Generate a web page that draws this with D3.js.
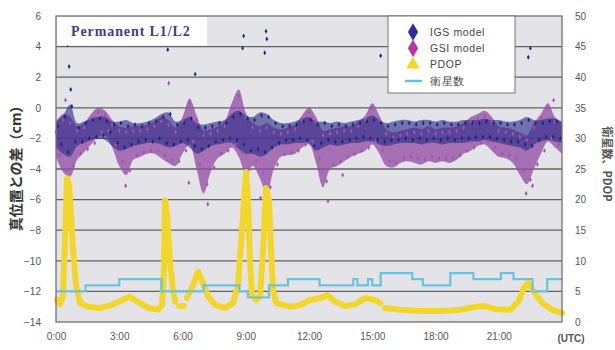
<!DOCTYPE html>
<html>
<head>
<meta charset="utf-8">
<script src="https://cdn.jsdelivr.net/npm/d3@7"></script>
<style>
  body { margin: 0; background: #fff; }
  svg { display: block; }
</style>
</head>
<body>
<svg id="chart" width="615" height="350"></svg>
<script>
// ---- data ----
const xTickHours = [0, 3, 6, 9, 12, 15, 18, 21];
const xTickLabels = ["0:00", "3:00", "6:00", "9:00", "12:00", "15:00", "18:00", "21:00"];
const leftTicks = [6, 4, 2, 0, -2, -4, -6, -8, -10, -12, -14];
const rightTicks = [0, 5, 10, 15, 20, 25, 30, 35, 40, 45, 50];
const seriesNames = ["IGS model", "GSI model", "PDOP", "衛星数"];

// envelope of the point clouds, every 20 min (cm)
const igsHi = [
  -0.9,-0.5,0.2, -1.0,-0.9,-0.7, -0.6,-0.6,-0.9, -0.9,-0.8,-1.0,
  -1.0,-0.9,-0.7, -0.4,-0.3,-0.9, -0.8,-0.6,-1.0, -1.1,-1.0,-0.9,
  -0.8,-0.4,-0.2, -0.5,-0.6,-0.3, -0.4,-0.8,-1.0, -1.0,-0.9,-0.7,
  -0.6,-0.9,-0.9, -1.0,-0.9,-1.0, -0.9,-0.8,-0.7, -0.5,-0.8,-1.0,
  -0.9,-0.8,-0.8, -0.9,-0.8,-0.8, -0.9,-0.8,-0.9, -0.9,-0.8,-0.8,
  -0.8,-0.7,-0.8, -0.8,-0.9,-0.9, -0.8,-0.6,-0.8, -0.8,-0.7,-0.7, -0.9];
const igsLo = [
  -2.6,-3.0,-3.2, -2.5,-2.3,-2.1, -2.0,-2.1,-2.5, -2.8,-2.7,-2.5,
  -2.4,-2.3,-2.3, -2.4,-2.6,-2.5, -2.3,-2.6,-3.0, -2.8,-2.5,-2.4,
  -2.3,-2.3,-2.7, -3.0,-3.0,-3.2, -3.0,-2.6,-2.4, -2.4,-2.3,-2.3,
  -2.3,-2.8,-2.6, -2.4,-2.5,-2.4, -2.3,-2.3,-2.2, -2.2,-2.4,-2.5,
  -2.4,-2.3,-2.3, -2.3,-2.4,-2.3, -2.3,-2.4,-2.3, -2.3,-2.3,-2.2,
  -2.2,-2.1,-2.2, -2.3,-2.4,-2.5, -2.6,-2.8,-2.4, -2.2,-2.1,-2.2, -2.3];
const gsiHi = [
  -0.9,-0.4,-0.6, -1.2,-1.0,-0.4, 0.0,-0.2,-0.8, -1.2,-1.3,-1.2,
  -1.2,-1.1,-0.9, -0.6,-0.8,-1.3, -0.6,0.6,-0.5, -1.5,-1.4,-1.2,
  -0.9,0.3,1.2, -0.3,-1.0,-1.2, -1.0,-1.3,-1.4, -1.3,-1.1,-0.5,
  0.0,-0.6,-1.5, -1.4,-1.3,-1.2, -1.2,-0.9,-0.5, 0.3,-0.5,-1.4,
  -1.6,-1.5,-1.4, -1.3,-1.4,-1.2, -1.4,-1.3,-1.3, -1.2,-1.0,-0.6,
  -0.4,-0.2,-0.6, -1.2,-1.3,-1.4, -1.6,-1.8,-1.0, -0.4,0.3,-0.6, -1.0];
const gsiLo = [
  -3.2,-4.2,-4.5, -3.4,-2.9,-2.4, -1.9,-1.8,-2.6, -3.8,-4.4,-3.4,
  -3.2,-3.0,-3.0, -3.3,-3.6,-3.8, -3.0,-2.4,-4.0, -5.6,-4.2,-3.3,
  -3.0,-2.6,-3.2, -4.3,-3.8,-4.6, -5.6,-4.0,-3.2, -3.1,-3.0,-2.6,
  -2.4,-3.6,-5.2, -4.0,-3.8,-3.5, -3.2,-3.0,-2.8, -2.4,-3.0,-3.8,
  -3.9,-3.6,-3.5, -3.6,-3.7,-3.5, -3.6,-3.5,-3.6, -3.4,-3.0,-2.8,
  -2.5,-2.4,-2.8, -3.2,-3.3,-3.6, -4.4,-5.0,-4.0, -3.0,-2.2,-2.6, -3.0];

// single epochs, every 10 min (cm)
const igsCm = [
  -1.2,-2.4,-0.6,-2.9,0.1,-2.2,  -1.3,-2.2,-1.0,-2.0,-0.8,-1.9,
  -0.7,-1.8,-0.9,-1.6,-1.1,-2.3,  -1.0,-2.6,-1.2,-2.4,-1.1,-2.2,
  -1.2,-2.1,-1.0,-2.2,-0.9,-2.0,  -0.6,-2.3,-0.4,-2.4,-1.1,-2.2,
  -1.0,-2.1,-0.7,-2.5,-1.3,-2.7,  -1.3,-2.5,-1.2,-2.2,-1.0,-2.1,
  -1.0,-2.0,-0.6,-2.1,-0.4,-2.4,  -0.7,-2.8,-0.8,-2.7,-0.5,-2.9,
  -0.6,-2.6,-1.0,-2.3,-1.2,-2.1,  -1.2,-2.1,-1.1,-2.0,-0.9,-2.1,
  -0.8,-2.5,-1.1,-2.3,-1.0,-2.1,  -1.2,-2.2,-1.1,-2.2,-1.2,-2.1,
  -1.1,-2.0,-1.0,-1.9,-0.9,-2.0,  -0.8,-2.1,-1.0,-2.2,-1.2,-2.1,
  -1.1,-2.1,-1.0,-2.0,-1.0,-2.1,  -1.1,-2.0,-1.0,-2.1,-1.0,-2.0,
  -1.1,-2.1,-1.0,-2.0,-1.1,-2.1,  -1.1,-2.0,-1.0,-2.0,-1.0,-1.9,
  -1.0,-1.9,-0.9,-1.9,-1.0,-2.0,  -1.0,-2.1,-1.1,-2.2,-1.1,-2.2,
  -1.0,-2.4,-0.8,-2.5,-1.0,-2.1,  -1.0,-1.9,-0.9,-1.9,-0.9,-2.0];
const gsiCm = [
  -1.6,-3.1,-0.8,-4.1,-1.0,-3.8,  -1.5,-3.0,-1.3,-2.7,-0.7,-2.3,
  -0.3,-1.6,-0.5,-1.5,-1.1,-2.4,  -1.5,-3.5,-1.6,-4.1,-1.5,-3.1,
  -1.5,-2.9,-1.4,-2.8,-1.2,-2.8,  -0.9,-3.1,-1.1,-3.4,-1.6,-3.5,
  -0.9,-2.8,0.3,-2.2,-0.8,-3.7,   -1.8,-5.0,-1.7,-3.9,-1.5,-3.0,
  -1.2,-2.8,0.0,-2.4,0.8,-2.9,    -0.6,-4.0,-1.3,-3.5,-1.5,-4.3,
  -1.3,-5.2,-1.6,-3.7,-1.7,-3.0,  -1.6,-2.9,-1.4,-2.8,-0.8,-2.4,
  -0.3,-2.2,-0.9,-3.3,-1.8,-4.8,  -1.7,-3.7,-1.6,-3.5,-1.5,-3.2,
  -1.5,-3.0,-1.2,-2.8,-0.8,-2.6,  0.0,-2.2,-0.8,-2.8,-1.7,-3.5,
  -1.9,-3.6,-1.8,-3.3,-1.7,-3.2,  -1.6,-3.3,-1.7,-3.4,-1.5,-3.2,
  -1.7,-3.3,-1.6,-3.3,-1.6,-3.3,  -1.5,-3.1,-1.3,-2.8,-0.9,-2.6,
  -0.7,-2.3,-0.5,-2.2,-0.9,-2.6,  -1.5,-3.0,-1.6,-3.1,-1.7,-3.3,
  -1.9,-4.1,-2.1,-4.7,-1.3,-3.7,  -0.7,-2.8,0.0,-2.0,-0.9,-2.4];

// stray epochs [hour, cm]
const igsStray = [[0.55, 4.1], [0.62, 2.7], [0.7, 1.2], [5.25, 4.8], [5.3, 3.8], [6.6, 2.2],
  [8.9, 4.7], [8.85, 3.9], [9.96, 5.0], [10.0, 4.5], [9.9, 3.6], [15.4, 3.4], [22.5, 3.9], [22.4, 3.3]];
const gsiStray = [[0.45, 0.5], [0.7, -5.2], [3.3, -5.1], [5.35, 1.6], [6.3, -4.9], [7.2, -6.3],
  [9.7, -5.9], [10.1, -6.0], [12.9, -6.1], [13.6, -4.4], [21.1, 2.7], [22.3, -5.6], [22.6, -5.1], [23.6, 0.5]];

// PDOP, null = no solution
const pdopHour = [0.05, 0.19, 0.33, 0.43, 0.52, 0.62, 0.71, 0.81, 0.95, 1.14, 1.52, 2.09, 2.66, 3.13,
  3.51, 3.89, 4.36, 4.84, 5.03, 5.12, 5.17, 5.27, 5.41, 5.55, 5.65, 5.75, 5.84, 6.05, 6.12, 6.21,
  6.5, 6.74, 6.97, 7.21, 7.54, 8.02, 8.4, 8.63, 8.82, 9.01, 9.11, 9.2, 9.3, 9.49, 9.68, 9.82, 9.96,
  10.1, 10.2, 10.29, 10.44, 11.1, 11.57, 12.05, 12.52, 12.86, 13.24, 13.71, 14.18, 14.66, 15.13,
  15.37, 15.47, 15.6, 16.3, 17.27, 18.2, 19.17, 19.88, 20.35, 20.83, 21.54, 21.92, 22.2, 22.39,
  22.68, 23.06, 23.53, 24];
const pdopValue = [3.6, 2.9, 4.2, 13.4, 23.5, 22.4, 17.5, 11.8, 6.0, 3.1, 2.5, 2.3, 2.8, 3.6,
  4.1, 3.3, 2.3, 2.0, 2.8, 8.5, 19.9, 17.5, 9.8, 5.2, 3.3, null, 2.6, 2.6, null, 3.9,
  6.0, 8.2, 6.4, 4.2, 2.8, 2.3, 3.1, 6.0, 15.0, 24.5, 19.9, 10.1, 4.4, 3.6, 4.2, 11.8, 21.9,
  19.9, 11.8, 5.2, 3.1, 2.5, 2.8, 3.6, 3.9, 4.4, 3.3, 2.6, 2.9, 3.9, 3.6,
  3.1, null, 2.3, 2.0, 1.8, 1.8, 2.0, 2.5, 2.6, 2.1, 2.0, 3.3, 5.6, 6.4,
  4.9, 3.1, 2.0, 1.5];

// satellites in view (step changes)
const satHour  = [0, 1.4, 3.0, 5.0, 7.0, 8.7, 9.1, 10.1, 11.0, 12.5, 14.1, 14.3, 14.8, 15.0, 15.4,
  16.9, 17.4, 18.7, 19.8, 21.1, 21.7, 22.6, 23.3, 24];
const satCount = [5, 6, 7, 5, 6, 5, 4, 6, 7, 6, 7, 6, 7, 6, 8, 7, 6, 8, 7, 8, 7, 5, 7, 7];

// ---- chart ----
const svg = d3.select("#chart");
const pLeft = 56, pRight = 562, pTop = 16, pBottom = 322;

const x = d3.scaleLinear().domain([0, 24]).range([pLeft, pRight]);
const y = d3.scaleLinear().domain([-14, 6]).range([pBottom, pTop]);
const y2 = d3.scaleLinear().domain([0, 50]).range([pBottom, pTop]);

const navy = "#2a2c88", purple = "#9650a6", yellow = "#f3d62c", cyan = "#6cc2dd";

svg.append("rect")
  .attr("x", pLeft).attr("y", pTop)
  .attr("width", pRight - pLeft).attr("height", pBottom - pTop)
  .attr("fill", "#e4e4e8");

// horizontal grid
svg.append("g")
  .selectAll("line")
  .data(leftTicks.slice(1, -1))
  .enter().append("line")
  .attr("x1", pLeft).attr("x2", pRight)
  .attr("y1", d => y(d)).attr("y2", d => y(d))
  .attr("stroke", "#626262")
  .attr("stroke-width", 1.3);

const plot = svg.append("g");

// clouds
const band = (hi, lo) => d3.area()
  .curve(d3.curveCatmullRom.alpha(0.5))
  .x((d, i) => x(i / 3))
  .y0((d, i) => y(lo[i]))
  .y1((d, i) => y(hi[i]))(hi);

plot.append("path").attr("d", band(gsiHi, gsiLo))
  .attr("fill", purple).attr("fill-opacity", 0.78);
plot.append("path").attr("d", band(igsHi, igsLo))
  .attr("fill", navy).attr("fill-opacity", 0.62);

const diamond = d3.symbol().type(d3.symbolDiamond).size(7);

function dots(vals, color) {
  plot.append("g")
    .selectAll("path")
    .data(vals)
    .enter().append("path")
    .attr("d", diamond)
    .attr("transform", d => `translate(${x(d[0])},${y(d[1])})`)
    .attr("fill", color);
}
dots(gsiCm.map((v, i) => [i / 6, v]).concat(gsiStray), "#a055ac");
dots(igsCm.map((v, i) => [i / 6 + 1 / 12, v]).concat(igsStray), "#23267e");

// PDOP
const pdop = pdopHour.map((h, i) => ({ h: h, v: pdopValue[i] }));
plot.append("path")
  .datum(pdop)
  .attr("d", d3.line()
    .defined(d => d.v != null)
    .x(d => x(d.h))
    .y(d => y2(d.v)))
  .attr("fill", "none")
  .attr("stroke", yellow)
  .attr("stroke-width", 6)
  .attr("stroke-linejoin", "round")
  .attr("stroke-linecap", "round");

// satellites
const sats = satHour.map((h, i) => ({ h: h, n: satCount[i] }));
plot.append("path")
  .datum(sats)
  .attr("d", d3.line().curve(d3.curveStepAfter)
    .x(d => x(d.h))
    .y(d => y2(d.n)))
  .attr("fill", "none")
  .attr("stroke", cyan)
  .attr("stroke-width", 2.2);

// frame
svg.append("rect")
  .attr("x", pLeft).attr("y", pTop)
  .attr("width", pRight - pLeft).attr("height", pBottom - pTop)
  .attr("fill", "none")
  .attr("stroke", "#707070")
  .attr("stroke-width", 1.3);

// axes
const tickFont = "Liberation Sans, Arial, sans-serif";
const yAxis = svg.append("g")
  .attr("transform", `translate(${pLeft},0)`)
  .call(d3.axisLeft(y).tickValues(leftTicks).tickSize(0).tickPadding(15));
const y2Axis = svg.append("g")
  .attr("transform", `translate(${pRight},0)`)
  .call(d3.axisRight(y2).tickValues(rightTicks).tickSize(0).tickPadding(13));
const xAxis = svg.append("g")
  .attr("transform", `translate(0,${pBottom})`)
  .call(d3.axisBottom(x).tickValues(xTickHours)
    .tickFormat((d, i) => xTickLabels[i]).tickSize(0).tickPadding(11));

[yAxis, y2Axis, xAxis].forEach(a => {
  a.select(".domain").remove();
  a.selectAll("text")
    .attr("font-family", tickFont)
    .attr("font-size", 10)
    .attr("fill", "#555");
});

svg.append("text")
  .attr("x", x(24) + 9).attr("y", pBottom + 20)
  .attr("text-anchor", "middle")
  .attr("font-family", tickFont)
  .attr("font-size", 10)
  .attr("font-weight", "bold")
  .attr("fill", "#555")
  .text("(UTC)");

// axis titles
svg.append("text")
  .attr("transform", "translate(21,165) rotate(-90)")
  .attr("text-anchor", "middle")
  .attr("font-family", "Noto Sans CJK JP, sans-serif")
  .attr("font-size", 14)
  .attr("font-weight", "bold")
  .attr("fill", "#333")
  .text("真位置との差（cm）");

svg.append("text")
  .attr("transform", "translate(603,164) rotate(90)")
  .attr("text-anchor", "middle")
  .attr("font-family", "Noto Sans CJK JP, sans-serif")
  .attr("font-size", 11)
  .attr("font-weight", "bold")
  .attr("fill", "#555")
  .text("衛星数、PDOP");

// label box
svg.append("rect")
  .attr("x", pLeft + 1).attr("y", pTop + 1)
  .attr("width", 150).attr("height", y(4) - pTop - 2)
  .attr("fill", "#fff");
svg.append("text")
  .attr("x", 71).attr("y", 36)
  .attr("font-family", "Liberation Serif, serif")
  .attr("font-size", 14)
  .attr("font-weight", "bold")
  .attr("letter-spacing", 0.9)
  .attr("fill", "#3a3f86")
  .text("Permanent L1/L2");

// legend
const lg = svg.append("g");
lg.append("rect")
  .attr("x", 388).attr("y", pTop)
  .attr("width", 127).attr("height", 77)
  .attr("fill", "#fff")
  .attr("stroke", "#777");
const legendY = d3.scalePoint().domain(seriesNames).range([32, 81]);
const item = lg.selectAll("g.item")
  .data(seriesNames)
  .enter().append("g")
  .attr("class", "item")
  .attr("transform", d => `translate(413,${legendY(d)})`);
item.filter((d, i) => i < 2).append("path")
  .attr("d", d3.symbol().type(d3.symbolDiamond).size(90))
  .attr("fill", (d, i) => i === 0 ? "#2c2c9c" : "#b8349e");
item.filter((d, i) => i === 2).append("path")
  .attr("d", d3.symbol().type(d3.symbolTriangle).size(80))
  .attr("fill", yellow);
item.filter((d, i) => i === 3).append("line")
  .attr("x1", -8).attr("x2", 9)
  .attr("stroke", cyan).attr("stroke-width", 2.5);
item.append("text")
  .attr("x", 17).attr("dy", "0.35em")
  .attr("font-family", tickFont)
  .attr("font-size", 10.5)
  .attr("letter-spacing", 0.6)
  .attr("fill", "#444")
  .text(d => d);
</script>
</body>
</html>
